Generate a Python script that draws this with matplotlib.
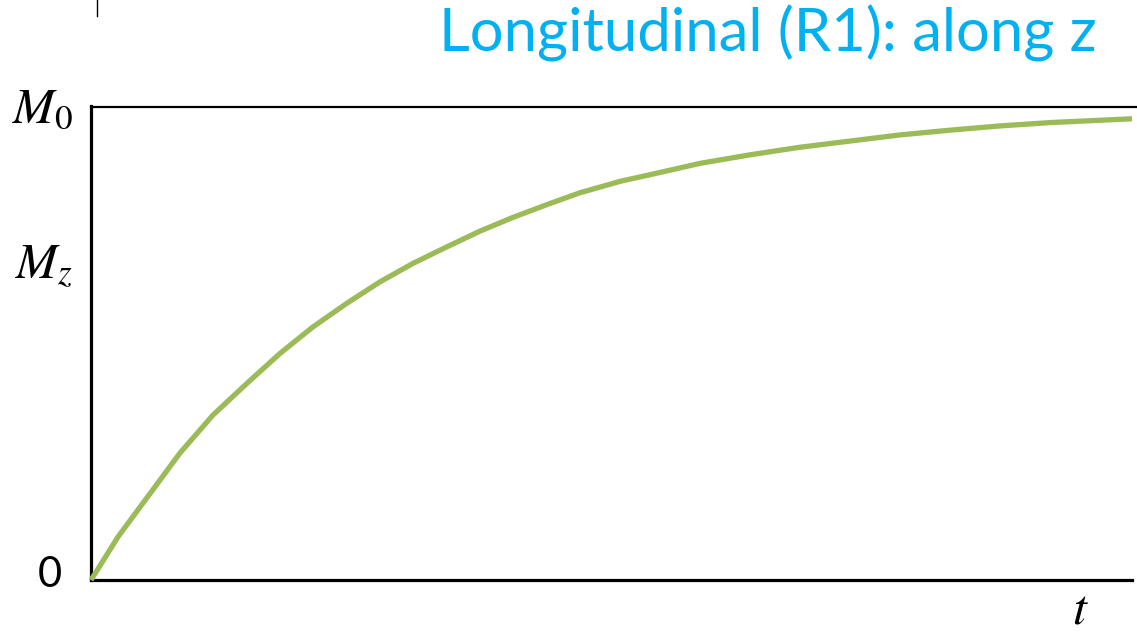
import matplotlib
matplotlib.use("Agg")
import matplotlib.pyplot as plt
from matplotlib.lines import Line2D

# Longitudinal recovery of magnetisation, read along the time axis
t_vals = [0, 27, 61, 89, 122, 156, 189, 222, 256, 289, 322, 356, 389, 422,
          456, 489, 529, 559, 609, 659, 709, 759, 809, 859, 909, 959, 1041]
mz_vals = [0.0, 0.091, 0.188, 0.268, 0.348, 0.415, 0.478, 0.534, 0.584,
           0.629, 0.668, 0.703, 0.736, 0.765, 0.792, 0.817, 0.841, 0.855,
           0.879, 0.897, 0.913, 0.926, 0.939, 0.949, 0.958, 0.965, 0.973]

y_tick_labels = ["$M_0$", "$M_z$", "0"]
title_text = "Longitudinal (R1): along z"
x_label = "$t$"

plt.rcParams["mathtext.fontset"] = "stix"

W, H = 1137, 635
fig = plt.figure(figsize=(W / 100, H / 100), dpi=100)


def fx(px):
    return px / W


def fy(py):
    return (H - py) / H


ax = fig.add_axes([fx(91), fy(580), fx(1132) - fx(91), fy(106) - fy(580)])
ax.plot(t_vals, mz_vals, color="#9BBB59", lw=3.8, solid_capstyle="butt",
        solid_joinstyle="round", clip_on=False, zorder=3)
ax.set_xlim(0, 1041)
ax.set_ylim(0, 1)
ax.set_xticks([])
ax.set_yticks([])
for side in ("top", "right"):
    ax.spines[side].set_visible(False)
for side in ("left", "bottom"):
    ax.spines[side].set_linewidth(2.3)
    ax.spines[side].set_color("black")

# top boundary at the M0 level, running to the figure edge
fig.add_artist(Line2D([fx(91), 1.0], [fy(106.5), fy(106.5)], color="black", lw=1.6))
# short stray mark at the top-left
fig.add_artist(Line2D([fx(97), fx(97)], [fy(0), fy(16)], color="black", lw=1.0))

# axis labels
fig.text(fx(12), fy(122), y_tick_labels[0], fontsize=36, ha="left", va="baseline")
fig.text(fx(15), fy(278), y_tick_labels[1], fontsize=36, ha="left", va="baseline")
fig.text(fx(50), fy(575), y_tick_labels[2], fontsize=30, ha="center", va="center",
         family="Lato")
fig.text(fx(1080), fy(634), x_label, fontsize=36, ha="center", va="bottom")

fig.text(fx(1097), fy(51), title_text, fontsize=43, ha="right", va="baseline",
         color="#00B0F0", family="Lato")

fig.savefig("out.png", dpi=100, facecolor="white")
